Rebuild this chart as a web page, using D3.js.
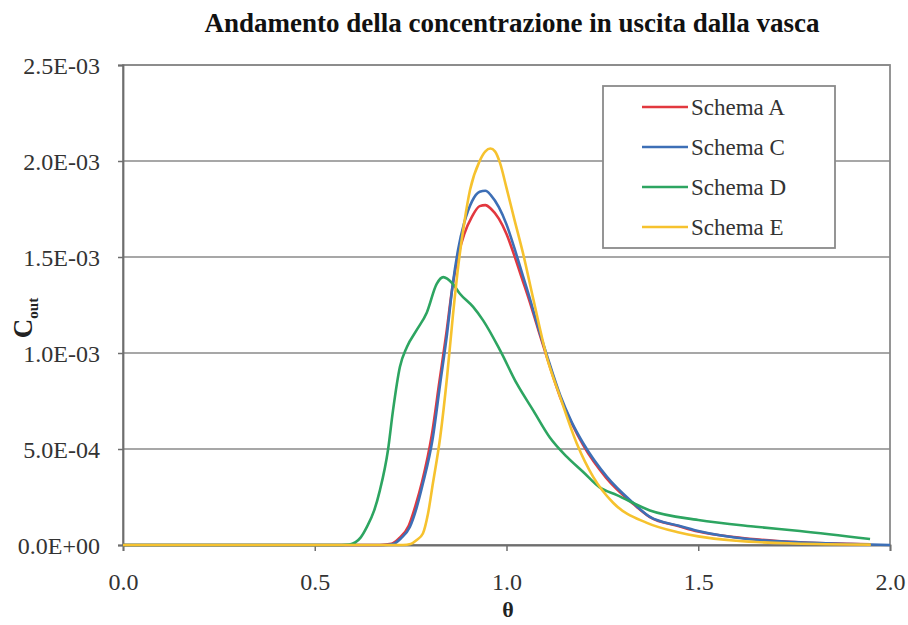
<!DOCTYPE html>
<html>
<head>
<meta charset="utf-8">
<script src="https://cdn.jsdelivr.net/npm/d3@7"></script>
<style>
  body { margin: 0; background: #fff; }
  svg text { font-family: 'Liberation Serif', 'LiberationSerif', Tinos, 'Times New Roman', Times, 'DejaVu Serif', serif; }
</style>
</head>
<body>
<div id="my_dataviz"></div>
<script>
// values (theta, C_out in units of 1E-03)
const seriesNames = ["Schema A", "Schema C", "Schema D", "Schema E"];
const seriesColors = ["#e2383f", "#3d6fb6", "#2da561", "#f6c22e"];

const thetaA = [0, 0.67, 0.70, 0.72, 0.745, 0.762, 0.78, 0.805, 0.825, 0.843, 0.858, 0.872, 0.89, 0.91, 0.93, 0.945, 0.96, 0.98, 1.0, 1.02, 1.04, 1.06, 1.08, 1.105, 1.14, 1.17, 1.2, 1.26, 1.33, 1.374, 1.45, 1.5, 1.6, 1.75, 1.95];
const cA = [0, 0, 0.006, 0.035, 0.10, 0.20, 0.33, 0.57, 0.85, 1.10, 1.33, 1.49, 1.62, 1.71, 1.765, 1.77, 1.75, 1.70, 1.62, 1.51, 1.39, 1.27, 1.14, 0.98, 0.77, 0.635, 0.52, 0.35, 0.215, 0.145, 0.098, 0.07, 0.04, 0.015, 0.003];

const thetaC = [0, 0.68, 0.704, 0.725, 0.748, 0.765, 0.782, 0.808, 0.827, 0.845, 0.86, 0.874, 0.89, 0.91, 0.93, 0.945, 0.96, 0.98, 1.0, 1.02, 1.04, 1.06, 1.08, 1.105, 1.14, 1.17, 1.2, 1.262, 1.33, 1.374, 1.45, 1.5, 1.635, 1.75, 1.9, 2.0];
const cC = [0, 0, 0.005, 0.035, 0.094, 0.19, 0.32, 0.56, 0.84, 1.10, 1.36, 1.54, 1.68, 1.79, 1.84, 1.845, 1.82, 1.76, 1.67, 1.55, 1.42, 1.29, 1.15, 0.99, 0.78, 0.64, 0.53, 0.355, 0.22, 0.146, 0.10, 0.073, 0.03, 0.015, 0.005, 0];

const thetaD = [0, 0.55, 0.59, 0.62, 0.636, 0.655, 0.67, 0.691, 0.704, 0.722, 0.74, 0.766, 0.792, 0.818, 0.835, 0.86, 0.878, 0.913, 0.939, 0.983, 1.027, 1.07, 1.113, 1.157, 1.2, 1.243, 1.288, 1.374, 1.5, 1.65, 1.765, 1.948];
const cD = [0, 0, 0.003, 0.04, 0.094, 0.18, 0.286, 0.495, 0.70, 0.927, 1.03, 1.12, 1.21, 1.36, 1.395, 1.36, 1.31, 1.24, 1.17, 1.015, 0.84, 0.70, 0.56, 0.46, 0.38, 0.30, 0.26, 0.18, 0.13, 0.095, 0.073, 0.031];

const thetaE = [0, 0.73, 0.75, 0.765, 0.782, 0.795, 0.808, 0.827, 0.845, 0.86, 0.874, 0.89, 0.905, 0.93, 0.945, 0.958, 0.97, 0.983, 1.0, 1.02, 1.043, 1.07, 1.105, 1.14, 1.183, 1.226, 1.278, 1.366, 1.45, 1.5, 1.6, 1.75, 1.95];
const cE = [0, 0, 0.005, 0.025, 0.06, 0.16, 0.32, 0.56, 0.875, 1.19, 1.45, 1.68, 1.85, 2.0, 2.05, 2.065, 2.05, 1.99, 1.86, 1.70, 1.52, 1.28, 0.98, 0.77, 0.53, 0.355, 0.22, 0.115, 0.065, 0.045, 0.022, 0.008, 0.002];

const xTicks = [0, 0.5, 1.0, 1.5, 2.0];
const yTicks = [0, 0.0005, 0.001, 0.0015, 0.002, 0.0025];

const chartTitle = "Andamento della concentrazione in uscita dalla vasca";

const allThetas = [thetaA, thetaC, thetaD, thetaE];
const allValues = [cA, cC, cD, cE];

const width = 908, height = 625;
const margin = {left: 123, right: 18, top: 65, bottom: 80};
const serif = "'Liberation Serif', 'LiberationSerif', Tinos, 'Times New Roman', Times, 'DejaVu Serif', serif";

const svg = d3.select("#my_dataviz").append("svg")
  .attr("width", width)
  .attr("height", height)
  .attr("font-family", serif);

const x = d3.scaleLinear().domain([0, 2]).range([margin.left, width - margin.right]);
const y = d3.scaleLinear().domain([0, 0.0025]).range([height - margin.bottom, margin.top]);

function expFormat(d) {
  const [m, e] = d.toExponential(1).split("e");
  const n = Math.abs(+e);
  return m + "E" + (+e < 0 ? "-" : "+") + (n < 10 ? "0" + n : n);
}

// gridlines
svg.append("g")
  .selectAll("line")
  .data(yTicks)
  .join("line")
  .attr("x1", x(0)).attr("x2", x(2))
  .attr("y1", d => y(d)).attr("y2", d => y(d))
  .style("stroke", "#8a8a8a")
  .style("stroke-width", 1.6);

// plot border
svg.append("rect")
  .attr("x", x(0)).attr("y", y(0.0025))
  .attr("width", x(2) - x(0)).attr("height", y(0) - y(0.0025))
  .style("fill", "none")
  .style("stroke", "#8a8a8a")
  .style("stroke-width", 1.8);

// axes
const xAxis = svg.append("g")
  .attr("transform", `translate(0,${y(0)})`)
  .call(d3.axisBottom(x).tickValues(xTicks).tickFormat(d3.format(".1f")).tickSize(6).tickPadding(22));
const yAxis = svg.append("g")
  .attr("transform", `translate(${x(0)},0)`)
  .call(d3.axisLeft(y).tickValues(yTicks).tickFormat(expFormat).tickSize(5).tickPadding(18));

[xAxis, yAxis].forEach(g => {
  g.attr("font-family", serif);
  g.select(".domain").style("stroke", "#6e6e6e").style("stroke-width", 1.8);
  g.selectAll(".tick line").style("stroke", "#6e6e6e").style("stroke-width", 1.5);
  g.selectAll(".tick text")
    .style("font-size", "24px")
    .style("fill", "#333");
});
yAxis.selectAll(".tick text").attr("dy", "0.36em");

// curves
const line = d3.line()
  .x(d => x(d[0]))
  .y(d => y(d[1] * 1e-3))
  .curve(d3.curveMonotoneX);

seriesNames.forEach((name, i) => {
  const pts = allThetas[i].map((t, j) => [t, allValues[i][j]]);
  svg.append("path")
    .datum(pts)
    .attr("d", line)
    .style("fill", "none")
    .style("stroke", seriesColors[i])
    .style("stroke-width", 2.6)
    .style("stroke-linejoin", "round");
});

// title
svg.append("text")
  .attr("x", 512).attr("y", 32)
  .attr("text-anchor", "middle")
  .attr("textLength", 615)
  .attr("lengthAdjust", "spacingAndGlyphs")
  .style("font-size", "27px")
  .style("font-weight", "bold")
  .style("fill", "#111")
  .text(chartTitle);

// axis titles
svg.append("text")
  .attr("x", 508).attr("y", 617)
  .attr("text-anchor", "middle")
  .style("font-size", "22px")
  .style("font-weight", "bold")
  .style("fill", "#222")
  .text("θ");

const yTitle = svg.append("text")
  .attr("transform", "translate(32,318) rotate(-90)")
  .attr("text-anchor", "middle")
  .style("font-weight", "bold")
  .style("fill", "#222");
yTitle.append("tspan").style("font-size", "27px").text("C");
yTitle.append("tspan").attr("dy", 6).style("font-size", "15px").text("out");

// legend
const legend = svg.append("g");
legend.append("rect")
  .attr("x", 603).attr("y", 86)
  .attr("width", 232).attr("height", 162)
  .style("fill", "#fff")
  .style("stroke", "#8a8a8a")
  .style("stroke-width", 1.8);

const rows = legend.selectAll("g.row")
  .data(seriesNames)
  .join("g")
  .attr("class", "row")
  .attr("transform", (d, i) => `translate(0,${107 + i * 40})`);
rows.append("line")
  .attr("x1", 642).attr("x2", 688)
  .style("stroke", (d, i) => seriesColors[i])
  .style("stroke-width", 2.6);
rows.append("text")
  .attr("x", 691).attr("y", 8)
  .style("font-size", "23px")
  .style("fill", "#333")
  .text(d => d);
</script>
</body>
</html>
